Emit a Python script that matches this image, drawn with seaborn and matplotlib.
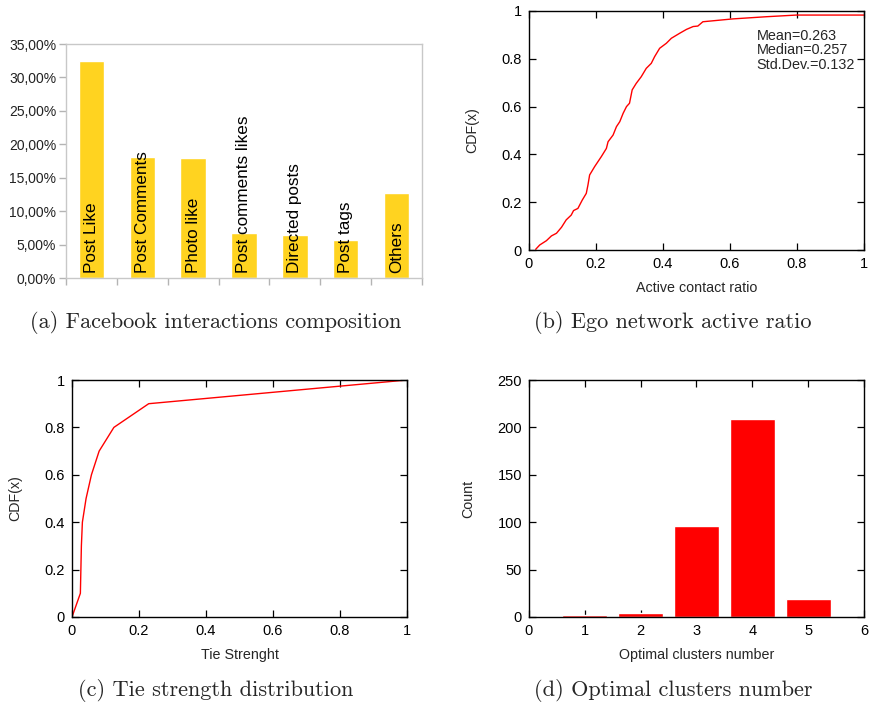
import seaborn as sns
import matplotlib.pyplot as plt
import pandas as pd

# (a) facebook interactions composition
interaction_types = ["Post Like", "Post Comments", "Photo like", "Post comments likes",
                     "Directed posts", "Post tags", "Others"]
interaction_share = [32.4, 18.1, 17.9, 6.8, 6.4, 5.7, 12.7]

active_ratio = [0.02, 0.032, 0.052, 0.067, 0.082, 0.097, 0.111, 0.126, 0.133, 0.146,
                0.159, 0.171, 0.176, 0.181, 0.196, 0.216, 0.231, 0.236, 0.251, 0.261,
                0.271, 0.281, 0.291, 0.300, 0.308, 0.320, 0.335, 0.350, 0.365, 0.375,
                0.390, 0.410, 0.425, 0.450, 0.470, 0.490, 0.504, 0.519, 0.609, 0.708,
                0.798, 1.0]
active_cdf = [0.003, 0.021, 0.039, 0.059, 0.07, 0.095, 0.126, 0.146, 0.165, 0.174,
              0.209, 0.237, 0.272, 0.314, 0.349, 0.391, 0.425, 0.453, 0.481, 0.516,
              0.537, 0.572, 0.600, 0.614, 0.670, 0.697, 0.725, 0.760, 0.781, 0.809,
              0.844, 0.865, 0.886, 0.907, 0.923, 0.935, 0.937, 0.955, 0.967, 0.976,
              0.983, 0.983]
stats_text = "Mean=0.263\nMedian=0.257\nStd.Dev.=0.132"

# (c) tie strength distribution
tie_strength = [0, 0.025, 0.028, 0.031, 0.042, 0.058, 0.081, 0.125, 0.229, 1.0]
tie_cdf = [0, 0.1, 0.3, 0.4, 0.5, 0.6, 0.7, 0.8, 0.9, 1.0]

# (d) optimal clusters number
clusters = [1, 2, 3, 4, 5]
cluster_count = [2, 4, 96, 209, 19]

sns.set_theme(style="white")
plt.rcParams['font.family'] = ['Liberation Sans', 'DejaVu Sans']

W, H = 870, 702
fig = plt.figure(figsize=(W / 100, H / 100), dpi=100)


def px_axes(left, top, right, bottom):
    # place an axes using pixel coordinates of the target image
    return fig.add_axes([left / W, (H - bottom) / H, (right - left) / W, (bottom - top) / H])


def gnuplot_box(ax):
    for s in ax.spines.values():
        s.set_visible(True)
        s.set_color("black")
        s.set_linewidth(1.0)
    ax.tick_params(direction="in", length=5, width=0.9, top=True, right=True,
                   bottom=True, left=True, labelsize=10.5, colors="black", pad=5)


def unit_ticks(ax):
    ticks = [0, 0.2, 0.4, 0.6, 0.8, 1]
    names = ["0", "0.2", "0.4", "0.6", "0.8", "1"]
    ax.set_xlim(0, 1)
    ax.set_ylim(0, 1)
    ax.set_xticks(ticks)
    ax.set_xticklabels(names)
    ax.set_yticks(ticks)
    ax.set_yticklabels(names)


def caption(x, y, text):
    fig.text(x / W, 1 - y / H, text, ha="center", va="center", fontsize=16,
             family=["cmr10", "DejaVu Serif"])


# ---- (a)
ax = px_axes(66, 44, 422, 278)
df_a = pd.DataFrame({"type": interaction_types, "share": interaction_share})
sns.barplot(data=df_a, x="type", y="share", color="#ffd320", saturation=1, width=0.5, ax=ax)
ax.set_xlim(-0.5, len(interaction_types) - 0.5)
ax.set_ylim(0, 35)
ax.set_yticks(range(0, 36, 5))
ax.set_yticklabels([f"{v},00%" for v in range(0, 36, 5)])
ax.set_xticks([i - 0.5 for i in range(len(interaction_types) + 1)])
ax.set_xticklabels([])
ax.set_xlabel("")
ax.set_ylabel("")
for s in ax.spines.values():
    s.set_visible(True)
    s.set_color("#c8c8c8")
    s.set_linewidth(1.0)
ax.tick_params(axis="both", direction="out", length=5, width=1, color="#b4b4b4",
               labelsize=10, labelcolor="#222222", pad=2, bottom=True, left=True)
for i, name in enumerate(interaction_types):
    ax.text(i, 0.7, name, rotation=90, ha="center", va="bottom", fontsize=12.3, color="black")
caption(216, 322, "(a) Facebook interactions composition")

# ---- (b)
ax = px_axes(529, 11, 864, 250)
df_b = pd.DataFrame({"ratio": active_ratio, "cdf": active_cdf})
sns.lineplot(data=df_b, x="ratio", y="cdf", color="red", linewidth=1.0, ax=ax)
unit_ticks(ax)
ax.set_xlabel("Active contact ratio", fontsize=10.3, labelpad=7)
ax.set_ylabel("CDF(x)", fontsize=10.3, labelpad=16)
gnuplot_box(ax)
ax.text(0.68, 0.925, stats_text, transform=ax.transAxes, ha="left", va="top",
        fontsize=10.4, linespacing=1.05)
caption(673, 322, "(b) Ego network active ratio")

# ---- (c)
ax = px_axes(72, 380, 407, 617)
df_c = pd.DataFrame({"tie": tie_strength, "cdf": tie_cdf})
sns.lineplot(data=df_c, x="tie", y="cdf", color="red", linewidth=1.0, ax=ax)
unit_ticks(ax)
ax.set_xlabel("Tie Strenght", fontsize=10.3, labelpad=7)
ax.set_ylabel("CDF(x)", fontsize=10.3, labelpad=16)
gnuplot_box(ax)
caption(216, 690, "(c) Tie strength distribution")

# ---- (d)
ax = px_axes(529, 380, 864, 617)
df_d = pd.DataFrame({"k": clusters, "count": cluster_count})
sns.barplot(data=df_d, x="k", y="count", native_scale=True, color="red", saturation=1,
            width=0.8, ax=ax)
ax.set_xlim(0, 6)
ax.set_ylim(0, 250)
ax.set_xticks(range(0, 7))
ax.set_yticks(range(0, 251, 50))
ax.set_xlabel("Optimal clusters number", fontsize=10.3, labelpad=7)
ax.set_ylabel("Count", fontsize=10.3, labelpad=16)
gnuplot_box(ax)
caption(673, 690, "(d) Optimal clusters number")

fig.savefig("out.png", dpi=100)
